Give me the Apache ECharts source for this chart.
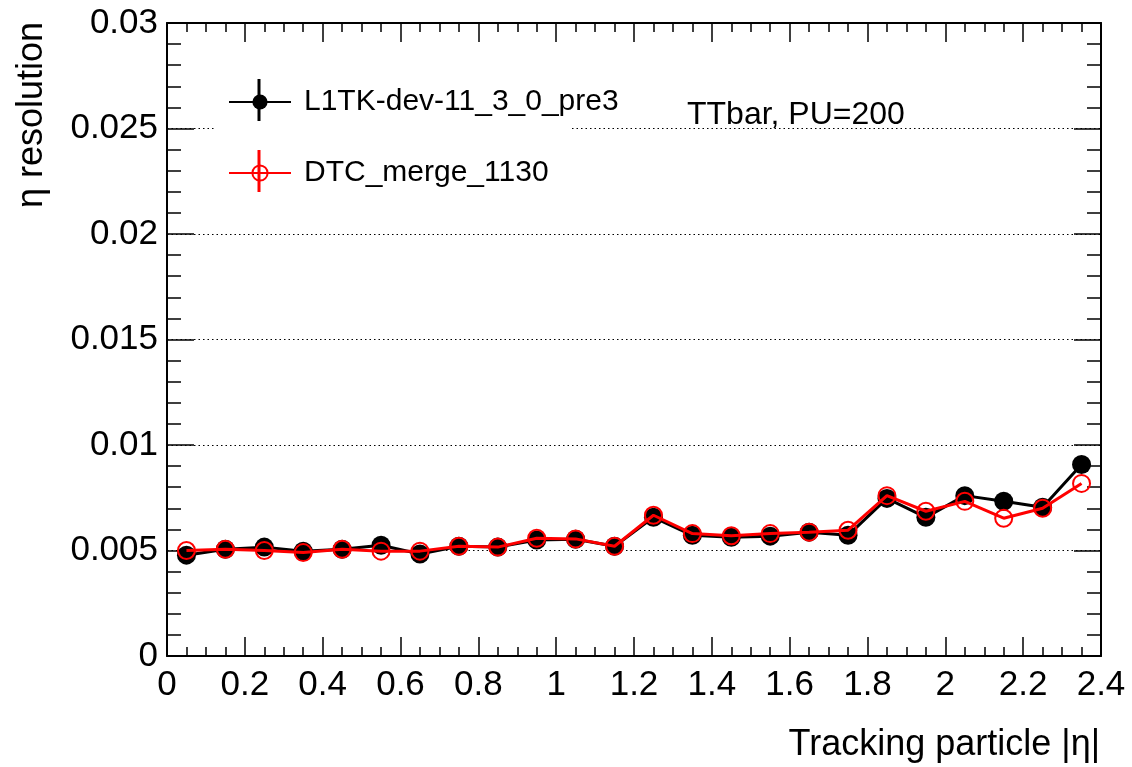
<!DOCTYPE html>
<html>
<head>
<meta charset="utf-8">
<script src="https://cdn.jsdelivr.net/npm/echarts@6/dist/echarts.min.js"></script>
<style>
  html, body { margin: 0; padding: 0; background: #fff; }
  #chart { width: 1132px; height: 767px; }
</style>
</head>
<body>
<div id="chart"></div>
<script>
// bin centres in |eta|
var etaBins = [0.05, 0.15, 0.25, 0.35, 0.45, 0.55, 0.65, 0.75, 0.85, 0.95, 1.05, 1.15,
  1.25, 1.35, 1.45, 1.55, 1.65, 1.75, 1.85, 1.95, 2.05, 2.15, 2.25, 2.35];

// eta resolution, L1TK-dev-11_3_0_pre3
var resDev = [0.00478, 0.00506, 0.00516, 0.00497, 0.00506, 0.00525, 0.00483, 0.00520,
  0.00516, 0.00550, 0.00553, 0.00520, 0.00657, 0.00572, 0.00563, 0.00568,
  0.00587, 0.00572, 0.00747, 0.00657, 0.00760, 0.00733, 0.00705, 0.00908];

// eta resolution, DTC_merge_1130
var resDtc = [0.00500, 0.00506, 0.00500, 0.00490, 0.00506, 0.00497, 0.00497, 0.00520,
  0.00516, 0.00558, 0.00555, 0.00520, 0.00667, 0.00580, 0.00570, 0.00580,
  0.00587, 0.00596, 0.00760, 0.00686, 0.00733, 0.00653, 0.00700, 0.00818];

var seriesNames = ['L1TK-dev-11_3_0_pre3', 'DTC_merge_1130'];

function pairs(xs, ys) {
  return xs.map(function (x, i) { return [x, ys[i]]; });
}

var font = 'Liberation Sans, Arial, Helvetica, sans-serif';
var chart = echarts.init(document.getElementById('chart'));

var baseX = {
  type: 'value',
  min: 0,
  max: 2.4,
  interval: 0.2,
  axisLine: { show: true, onZero: false, lineStyle: { color: '#000', width: 2 } },
  axisTick: { show: true, inside: true, length: 19, lineStyle: { color: '#000', width: 1.5 } },
  minorTick: { show: true, splitNumber: 4, length: 9, lineStyle: { color: '#000', width: 1.5 } },
  splitLine: { show: false }
};
var baseY = {
  type: 'value',
  min: 0,
  max: 0.03,
  interval: 0.005,
  axisLine: { show: true, onZero: false, lineStyle: { color: '#000', width: 2 } },
  axisTick: { show: true, inside: true, length: 27, lineStyle: { color: '#000', width: 1.5 } },
  minorTick: { show: true, splitNumber: 5, length: 14, lineStyle: { color: '#000', width: 1.5 } }
};

var option = {
  backgroundColor: '#fff',
  animation: false,
  grid: { left: 167, right: 31, top: 23, bottom: 111, containLabel: false },
  xAxis: [
    Object.assign({}, baseX, {
      position: 'bottom',
      axisLabel: { color: '#000', fontFamily: font, fontSize: 35, margin: 12 }
    }),
    Object.assign({}, baseX, {
      position: 'top',
      axisLabel: { show: false }
    })
  ],
  yAxis: [
    Object.assign({}, baseY, {
      position: 'left',
      axisLabel: { color: '#000', fontFamily: font, fontSize: 35, margin: 9 },
      splitLine: { show: true, lineStyle: { color: '#000', width: 1, type: [1.5, 3] } }
    }),
    Object.assign({}, baseY, {
      position: 'right',
      axisLabel: { show: false },
      splitLine: { show: false }
    })
  ],
  legend: {
    orient: 'vertical',
    left: 223,
    top: 82,
    itemWidth: 62,
    itemHeight: 19,
    itemGap: 41,
    data: seriesNames,
    textStyle: { color: '#000', fontFamily: font, fontSize: 30, padding: [0, 0, 0, 8] }
  },
  graphic: [
    // legend box (white, hides the grid line behind it)
    { type: 'rect', z: 1, shape: { x: 215, y: 60, width: 357, height: 140 },
      style: { fill: '#fff' }, silent: true },
    // vertical error-bar strokes of the legend markers
    { type: 'line', z: 10, shape: { x1: 259, y1: 79, x2: 259, y2: 121 },
      style: { stroke: '#000', lineWidth: 3 } },
    { type: 'line', z: 10, shape: { x1: 259, y1: 150, x2: 259, y2: 192 },
      style: { stroke: '#ff0000', lineWidth: 3 } },
    { type: 'text', z: 10, left: 687, top: 99,
      style: { text: 'TTbar, PU=200', fill: '#000', font: '32px ' + font } },
    { type: 'text', z: 10, right: 32, top: 727,
      style: { text: 'Tracking particle |\u03b7|', fill: '#000', font: '36px ' + font } },
    { type: 'text', z: 10, left: 14, top: 22, rotation: Math.PI / 2,
      style: { text: '\u03b7 resolution', fill: '#000', font: '36px ' + font } }
  ],
  series: [
    {
      name: seriesNames[0],
      type: 'line',
      xAxisIndex: 0,
      yAxisIndex: 0,
      z: 3,
      data: pairs(etaBins, resDev),
      symbol: 'circle',
      symbolSize: 19,
      itemStyle: { color: '#000' },
      lineStyle: { color: '#000', width: 3 }
    },
    {
      name: seriesNames[1],
      type: 'line',
      xAxisIndex: 0,
      yAxisIndex: 0,
      z: 4,
      data: pairs(etaBins, resDtc),
      symbol: 'circle',
      symbolSize: 17,
      itemStyle: { color: 'rgba(255,255,255,0)', borderColor: '#ff0000', borderWidth: 2 },
      lineStyle: { color: '#ff0000', width: 3 }
    }
  ]
};

chart.setOption(option);
</script>
</body>
</html>
